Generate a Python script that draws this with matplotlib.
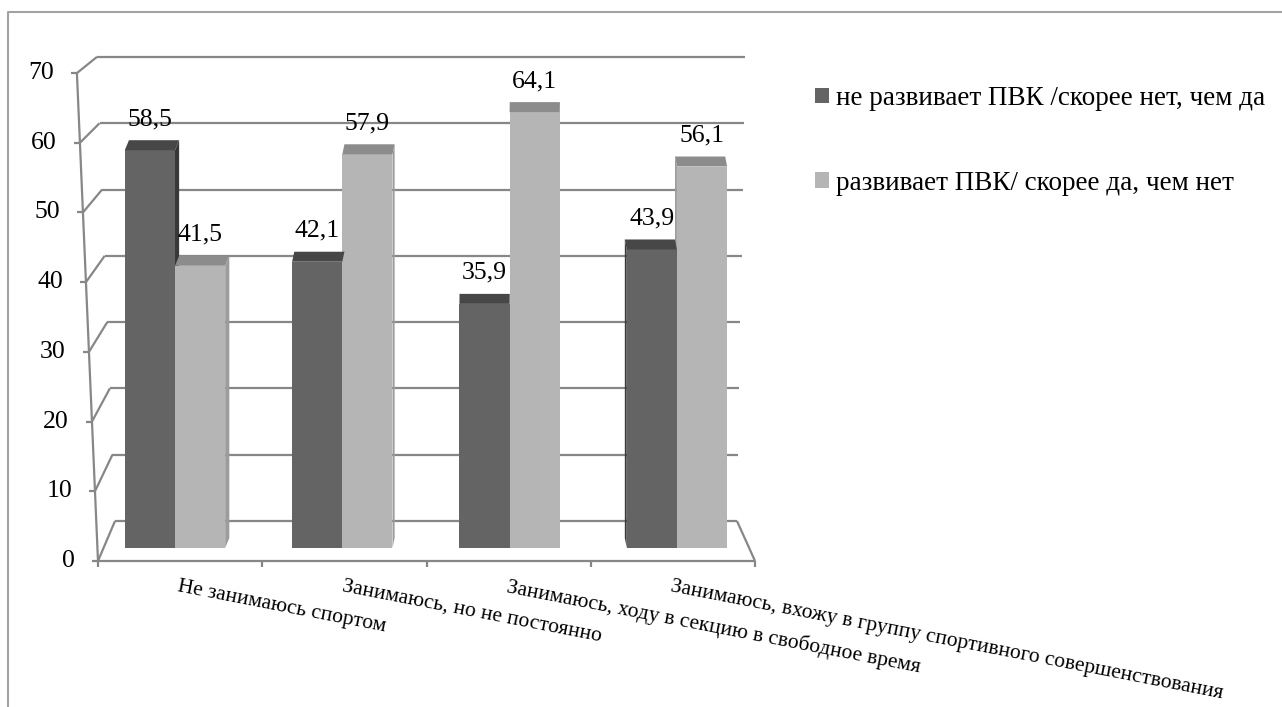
"""
3D-style clustered bar chart (two answers per group) redrawn with flat matplotlib
patches: back wall grid, front axis, bars with top and side faces.
"""

import numpy as np
from matplotlib import pyplot as plt
from matplotlib.lines import Line2D
from matplotlib.patches import Patch

# DATA -----------------------
categories   = ['Не занимаюсь спортом',
                'Занимаюсь, но не постоянно',
                'Занимаюсь, ходу в секцию в свободное время',
                'Занимаюсь, вхожу в группу спортивного совершенствования']
series_names = ['не развивает ПВК /скорее нет, чем да',
                'развивает ПВК/ скорее да, чем нет']
no_values    = [58.5, 42.1, 35.9, 43.9]
yes_values   = [41.5, 57.9, 64.1, 56.1]
yticks       = [0, 10, 20, 30, 40, 50, 60, 70]
# -----------------------------

plt.rcParams['font.family'] = ['Liberation Serif', 'DejaVu Serif']

W, H     = 1282, 707
fontsize = 18.5
gridcol  = '#878787'
cols     = {'front': ['#646464', '#b5b5b5'],
            'top':   ['#474747', '#8c8c8c'],
            'side':  ['#383838', '#9c9c9c']}

fig = plt.figure(figsize=(W/100, H/100), dpi=100)
# axes = plane of the bar fronts: 1 category = 167.3 px, 1 unit = 6.8 px
ax = fig.add_axes([91.35/W, (H-548)/H, 669.2/W, 476/H])
ax.set_xlim(-0.5, 3.5)
ax.set_ylim(0, 70)
ax.axis('off')

px = 1/167.3   # one pixel in x data units
py = 1/6.8     # one pixel in y data units

# front plane (axis lines) and back wall, expressed in bar-plane data units
def front_y(v):  return -1.91 + 1.025*v
def front_xl(v): return -0.4603 - 0.0018*v
def back_y(v):   return 3.97 + 0.975*v
def back_xl(v):  return -0.3586 - 0.00154*v
def back_xr(v):  return 3.3592 + 0.00068*v
bounds = -0.4603 + 0.9818*np.arange(len(categories)+1)

kw = dict(color=gridcol, lw=1.6, clip_on=False, solid_capstyle='butt')
for v in yticks:
    # back wall gridline + diagonal from the front tick
    ax.plot([back_xl(v), back_xr(v)], [back_y(v), back_y(v)], zorder=1, **kw)
    ax.plot([front_xl(v), back_xl(v)], [front_y(v), back_y(v)], zorder=1, **kw)
    ax.plot([front_xl(v)-6*px, front_xl(v)], [front_y(v), front_y(v)], zorder=1, **kw)
    ax.text(front_xl(v)-23*px, front_y(v), str(v), ha='right', va='center',
            fontsize=fontsize)

# front axis, floor front edge and right floor edge
ax.plot([front_xl(0), front_xl(70)], [front_y(0), front_y(70)], zorder=1, **kw)
ax.plot([bounds[0], bounds[-1]], [front_y(0), front_y(0)], zorder=1, **kw)
ax.plot([bounds[-1], back_xr(0)], [front_y(0), back_y(0)], zorder=1, **kw)
for b in bounds:
    ax.plot([b, b], [front_y(0), front_y(0)-6*py], zorder=1, **kw)

# bars
x  = np.arange(len(categories))
bw = 0.30
bars = [ax.bar(x - bw/2, no_values, bw, color=cols['front'][0], zorder=3),
        ax.bar(x + bw/2, yes_values, bw, color=cols['front'][1], zorder=3)]

dy = 10*py
for s, cont in enumerate(bars):
    for k, r in enumerate(cont):
        x0, w, h = r.get_x(), r.get_width(), r.get_height()
        dx = 0.012*(345 - 167.3*k)*px      # perspective: back edge leans to centre
        ax.fill([x0, x0+w, x0+w+dx, x0+dx], [h, h, h+dy, h+dy],
                color=cols['top'][s], zorder=3, lw=0)
        xs = x0 + w if dx > 0 else x0
        ax.fill([xs, xs, xs+dx, xs+dx], [0, h, h+dy, dy],
                color=cols['side'][s], zorder=2, lw=0)
        ax.annotate(f'{h:.1f}'.replace('.', ','), xy=(x0 + w/2, h),
                    xytext=(0, 31), textcoords='offset pixels',
                    ha='center', va='center', fontsize=fontsize, zorder=5)

# category labels, slanted under the floor
for k, lab in enumerate(categories):
    ax.text((bounds[k] + bounds[k+1])/2, front_y(0) - 16*py, lab,
            rotation=-11, rotation_mode='anchor', ha='left', va='top',
            fontsize=15.5)

# legend
handles = [Patch(facecolor=cols['front'][0]), Patch(facecolor=cols['front'][1])]
fig.legend(handles, series_names, loc='upper left',
           bbox_to_anchor=(815/W, (H-86)/H), frameon=False, fontsize=19.5,
           handlelength=0.52, handleheight=0.52, handletextpad=0.25,
           labelspacing=2.2, borderpad=0, borderaxespad=0)

# outer chart frame (cut off at right and bottom)
fig.add_artist(Line2D([8/W, 8/W, 1], [0, 1-12/H, 1-12/H],
                      transform=fig.transFigure, color='#a3a3a3', lw=1.5))

fig.savefig('out.png', dpi=100)
